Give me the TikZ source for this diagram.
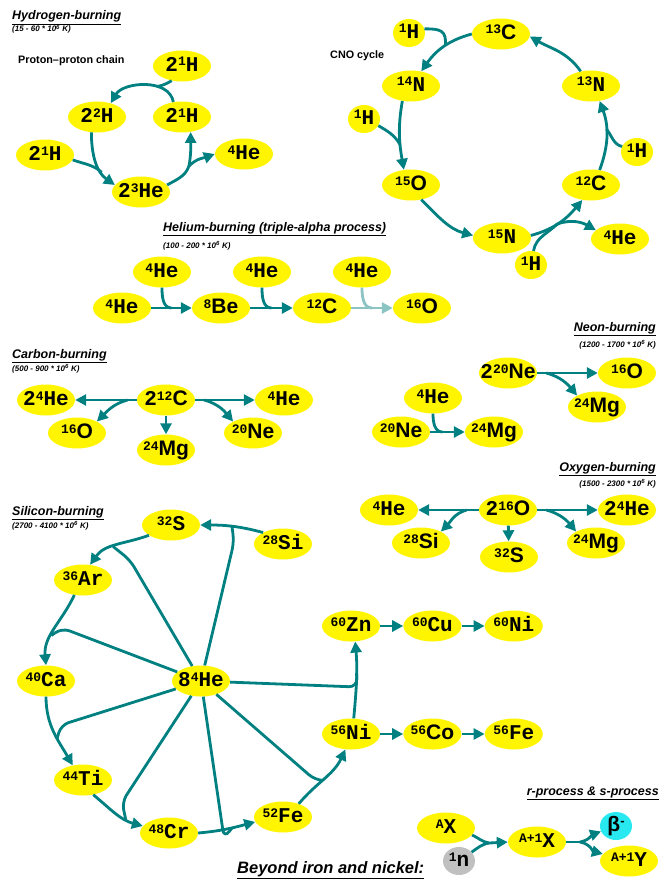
\documentclass[tikz,border=0pt]{standalone}
\usepackage{fontspec}
\setmainfont{Liberation Sans}
\newfontfamily\monofont{Liberation Mono}
\usepackage{tikz}
\definecolor{nucyellow}{RGB}{255,245,0}
\definecolor{reactteal}{RGB}{0,128,128}
\definecolor{fadeteal}{RGB}{140,196,196}
\definecolor{neutrongray}{RGB}{192,192,192}
\definecolor{betacyan}{RGB}{40,232,240}
\usetikzlibrary{arrows.meta, positioning, shapes}
\newcommand{\iso}[2]{\raisebox{5.5pt}{\fontsize{13}{13}\selectfont #1}#2}
\newcommand{\sanel}[1]{{\rmfamily #1}}
\tikzstyle{nucl} = [ellipse, fill=nucyellow, minimum width=58pt, minimum height=31pt, inner xsep=-12pt, inner ysep=-3pt, text height=14pt, text depth=3pt, font=\monofont\bfseries\fontsize{21}{21}\selectfont]
\tikzstyle{proton} = [nucl, minimum width=32pt, minimum height=28pt]
\tikzstyle{arrow} = [arrows=->, reactteal, line width=2.8pt]
\tikzstyle{feed} = [reactteal, line width=2.8pt]
\tikzstyle{title} = [anchor=base west, inner sep=0pt, font=\bfseries\itshape\fontsize{12.5}{14}\selectfont]
\tikzstyle{temp} = [anchor=base west, inner sep=0pt, font=\bfseries\itshape\fontsize{8}{9}\selectfont]
\tikzstyle{caption} = [anchor=base west, inner sep=0pt, font=\bfseries\fontsize{10.8}{12}\selectfont]

\begin{document}
\begin{tikzpicture}[x=1pt, y=-1pt, >={Triangle[length=11pt, width=11pt]}]
    \useasboundingbox (0,0) rectangle (660,880);

    % Hydrogen-burning: proton-proton chain
    \node [title] (hydtitle) at (12,20) {\underline{Hydrogen-burning}};
    \node [temp] (hydtemp) at (12,32) {(15 - 60 * 10\textsuperscript{6} K)};
    \node [caption] (ppcap) at (18,64) {Proton–proton chain};
    \node [nucl] (ppa) at (182,66) {2\iso{1}{H}};
    \node [nucl] (ppb) at (97,117) {2\iso{2}{H}};
    \node [nucl] (ppc) at (182,117) {2\iso{1}{H}};
    \node [nucl] (ppd) at (45,155) {2\iso{1}{H}};
    \node [nucl] (ppe) at (141,192) {2\iso{3}{He}};
    \node [nucl] (ppf) at (244,154) {\iso{4}{He}};
    \coordinate (ppj3) at (189,166);

    \draw [arrow] (ppc.120) to[out=100, in=60] coordinate[pos=0.35] (ppj1) (ppb.45);
    \draw [feed] (ppa.235) to[out=-150, in=10] (ppj1);
    \draw [arrow] (ppb.250) to[out=-90, in=145] coordinate[pos=0.7] (ppj2) (ppe.165);
    \draw [feed] (ppd.-10) to[out=-20, in=140] (ppj2);
    \draw [feed] (ppe.15) to[out=30, in=-110] (ppj3);
    \draw [arrow] (ppj3) to[out=80, in=-90] (ppc.-60);
    \draw [arrow] (ppj3) to[out=45, in=200] (ppf.west);

    % Hydrogen-burning: CNO cycle
    \node [caption] (cnocap) at (330,59) {CNO cycle};
    \node [proton] (cnoh1) at (409,33) {\iso{1}{H}};
    \node [nucl] (cnoc13) at (501,34) {\iso{13}{\sanel{C}}};
    \node [nucl] (cnon14) at (411,86) {\iso{14}{N}};
    \node [nucl] (cnon13) at (591,86) {\iso{13}{N}};
    \node [proton] (cnoh2) at (364,119) {\iso{1}{H}};
    \node [proton] (cnoh3) at (637,152) {\iso{1}{H}};
    \node [nucl] (cnoo15) at (411,185) {\iso{15}{\sanel{O}}};
    \node [nucl] (cnoc12) at (591,185) {\iso{12}{\sanel{C}}};
    \node [nucl] (cnon15) at (502,238) {\iso{15}{N}};
    \node [nucl] (cnohe) at (620,239) {\iso{4}{He}};
    \node [proton] (cnoh4) at (531,265) {\iso{1}{H}};

    \draw [arrow] (cnoc13.west) to[out=195, in=55] coordinate[pos=0.45] (cnoj1) (cnon14.55);
    \draw [feed] (cnoh1.15) to[out=0, in=85, looseness=1.5] (cnoj1);
    \draw [arrow] (cnon14.240) to[out=-100, in=100] coordinate[pos=0.65] (cnoj2) (cnoo15.115);
    \draw [feed] (cnoh2.-25) to[out=-30, in=120] (cnoj2);
    \draw [arrow] (cnoo15.-55) to[out=-45, in=165] (cnon15.175);
    \draw [arrow] (cnon15.5) to[out=15, in=-130] coordinate[pos=0.45] (cnoj3) (cnoc12.240);
    \draw [feed] (cnoh4.80) to[out=80, in=-135] (cnoj3);
    \draw [arrow] (cnoj3) to[out=20, in=150] (cnohe.160);
    \draw [arrow] (cnoc12.60) to[out=70, in=-70] coordinate[pos=0.6] (cnoj4) (cnon13.-60);
    \draw [feed] (cnoh3.160) to[out=165, in=-50] (cnoj4);
    \draw [arrow] (cnon13.125) to[out=125, in=-30] (cnoc13.-5);

    % Helium-burning
    \node [title] (hetitle) at (163,231) {\underline{Helium-burning (triple-alpha process)}};
    \node [temp] (hetemp) at (163,248) {(100 - 200 * 10\textsuperscript{6} K)};
    \node [nucl] (hea0) at (122,308) {\iso{4}{He}};
    \node [nucl] (hea1) at (162,272) {\iso{4}{He}};
    \node [nucl] (be8) at (221,308) {\iso{8}{\sanel{Be}}};
    \node [nucl] (hea2) at (262,272) {\iso{4}{He}};
    \node [nucl] (hec12) at (322,308) {\iso{12}{\sanel{C}}};
    \node [nucl] (hea3) at (362,272) {\iso{4}{He}};
    \node [nucl] (heo16) at (422,308) {\iso{16}{\sanel{O}}};

    \draw [arrow] (hea0) -- coordinate[pos=0.5] (hja) (be8);
    \draw [feed] (hea1.south) to[out=-90, in=180] (hja);
    \draw [arrow] (be8) -- coordinate[pos=0.5] (hjb) (hec12);
    \draw [feed] (hea2.south) to[out=-90, in=180] (hjb);
    \draw [arrow, fadeteal] (hec12) -- coordinate[pos=0.5] (hjc) (heo16);
    \draw [feed, fadeteal] (hea3.south) to[out=-90, in=180] (hjc);

    % Carbon-burning
    \node [title] (ctitle) at (12,358) {\underline{Carbon-burning}};
    \node [temp] (ctemp) at (12,371) {(500 - 900 * 10\textsuperscript{6} K)};
    \node [nucl] (che2) at (46,400) {2\iso{4}{He}};
    \node [nucl] (cc2) at (166,400) {2\iso{12}{\sanel{C}}};
    \node [nucl] (chec) at (284,400) {\iso{4}{He}};
    \node [nucl] (co16) at (77,433) {\iso{16}{\sanel{O}}};
    \node [nucl] (cmg24) at (166,450) {\iso{24}{\sanel{Mg}}};
    \node [nucl] (cne20) at (253,433) {\iso{20}{\sanel{Ne}}};

    \draw [arrow] (cc2.west) -- coordinate[pos=0.15] (ccj1) (che2.east);
    \draw [arrow] (ccj1) to[out=195, in=45] (co16.30);
    \draw [arrow] (cc2.east) -- coordinate[pos=0.15] (ccj2) (chec.west);
    \draw [arrow] (ccj2) to[out=-15, in=130] (cne20.150);
    \draw [arrow] (cc2) -- (cmg24);

    % Neon-burning
    \node [title, anchor=base east] (netitle) at (656,331) {\underline{Neon-burning}};
    \node [temp, anchor=base east] (netemp) at (656,347) {(1200 - 1700 * 10\textsuperscript{6} K)};
    \node [nucl] (nne2) at (508,373) {2\iso{20}{\sanel{Ne}}};
    \node [nucl] (no16) at (627,373) {\iso{16}{\sanel{O}}};
    \node [nucl] (nmg24) at (597,407) {\iso{24}{\sanel{Mg}}};
    \node [nucl] (nhe) at (433,398) {\iso{4}{He}};
    \node [nucl] (nne20) at (401,432) {\iso{20}{\sanel{Ne}}};
    \node [nucl] (nmg24b) at (494,432) {\iso{24}{\sanel{Mg}}};

    \draw [arrow] (nne2.east) -- coordinate[pos=0.15] (nj1) (no16.west);
    \draw [arrow] (nj1) to[out=-15, in=130] (nmg24.150);
    \draw [arrow] (nne20) -- coordinate[pos=0.35] (nj2) (nmg24b);
    \draw [feed] (nhe.south) to[out=-90, in=180] (nj2);

    % Oxygen-burning
    \node [title, anchor=base east] (oxtitle) at (656,471) {\underline{Oxygen-burning}};
    \node [temp, anchor=base east] (oxtemp) at (656,486) {(1500 - 2300 * 10\textsuperscript{6} K)};
    \node [nucl] (oo2) at (508,510) {2\iso{16}{\sanel{O}}};
    \node [nucl] (ohe) at (389,510) {\iso{4}{He}};
    \node [nucl] (ohe2) at (627,510) {2\iso{4}{He}};
    \node [nucl] (osi28) at (421,543) {\iso{28}{\sanel{Si}}};
    \node [nucl] (os32) at (509,557) {\iso{32}{\sanel{S}}};
    \node [nucl] (omg24) at (596,543) {\iso{24}{\sanel{Mg}}};

    \draw [arrow] (oo2.west) -- coordinate[pos=0.2] (oj1) (ohe.east);
    \draw [arrow] (oj1) to[out=195, in=45] (osi28.30);
    \draw [arrow] (oo2.east) -- coordinate[pos=0.15] (oj2) (ohe2.west);
    \draw [arrow] (oj2) to[out=-15, in=130] (omg24.150);
    \draw [arrow] (oo2) -- (os32);

    % Silicon-burning
    \node [title] (sititle) at (12,515) {\underline{Silicon-burning}};
    \node [temp] (sitemp) at (12,528) {(2700 - 4100 * 10\textsuperscript{6} K)};
    \node [nucl] (s32) at (171,525) {\iso{32}{S}};
    \node [nucl] (si28) at (283,544) {\iso{28}{Si}};
    \node [nucl] (ar36) at (83,580) {\iso{36}{Ar}};
    \node [nucl] (ca40) at (46,681) {\iso{40}{Ca}};
    \node [nucl] (he8) at (201,681) {8\iso{4}{He}};
    \node [nucl] (ti44) at (83,780) {\iso{44}{Ti}};
    \node [nucl] (cr48) at (169,833) {\iso{48}{Cr}};
    \node [nucl] (fe52) at (283,817) {\iso{52}{Fe}};
    \node [nucl] (zn60) at (351,626) {\iso{60}{Zn}};
    \node [nucl, right=23pt of zn60] (cu60) {\iso{60}{Cu}};
    \node [nucl, right=23pt of cu60] (ni60) {\iso{60}{Ni}};
    \node [nucl] (ni56) at (351,734) {\iso{56}{Ni}};
    \node [nucl, right=23pt of ni56] (co56) {\iso{56}{\sanel{Co}}};
    \node [nucl, right=23pt of co56] (fe56) {\iso{56}{Fe}};

    \draw [arrow] (si28.150) to[out=165, in=0] coordinate[pos=0.5] (sia) (s32.east);
    \draw [feed, rounded corners=8pt] (he8) -- (234,542) -- (sia);
    \draw [arrow] (s32.205) to[out=200, in=55] coordinate[pos=0.55] (sib) (ar36.65);
    \draw [feed, rounded corners=8pt] (he8) -- (130,560) -- (sib);
    \draw [arrow] (ar36.240) to[out=-115, in=95] coordinate[pos=0.6] (sic) (ca40.north);
    \draw [feed, rounded corners=8pt] (he8) -- (62,628) -- (sic);
    \draw [arrow] (ca40.south) to[out=-90, in=120] coordinate[pos=0.6] (sid) (ti44.125);
    \draw [feed, rounded corners=8pt] (he8) -- (61,725) -- (sid);
    \draw [arrow] (ti44.-55) to[out=-40, in=165] coordinate[pos=0.7] (sie) (cr48.165);
    \draw [feed, rounded corners=8pt] (he8) -- (122,802) -- (sie);
    \draw [arrow] (cr48.east) to[out=5, in=195] coordinate[pos=0.6] (sif) (fe52.190);
    \draw [feed, rounded corners=8pt] (he8) -- (224,838) -- (sif);
    \draw [arrow] (fe52.40) to[out=50, in=-115] coordinate[pos=0.45] (sig) (ni56.-110);
    \draw [feed, rounded corners=8pt] (he8) -- (315,780) -- (sig);
    \draw [arrow] (ni56.80) to[out=85, in=-85] coordinate[pos=0.6] (sih) (zn60.-75);
    \draw [feed, rounded corners=8pt] (he8) -- (357,687) -- (sih);

    \draw [arrow] (zn60) -- (cu60);
    \draw [arrow] (cu60) -- (ni60);
    \draw [arrow] (ni56) -- (co56);
    \draw [arrow] (co56) -- (fe56);

    % r-process & s-process
    \node [title, font=\bfseries\itshape\fontsize{16.5}{18}\selectfont] (beyond) at (237,873) {\underline{Beyond iron and nickel:}};
    \node [title, anchor=base east] (rstitle) at (659,795) {\underline{r-process \& s-process}};
    \node [nucl] (ax) at (446,828) {\iso{A}{X}};
    \node [proton, fill=neutrongray] (neut) at (459,861) {\iso{1}{n}};
    \node [nucl] (ax1) at (537,842) {\iso{A+1}{X}};
    \node [proton, fill=betacyan] (beta) at (616,826) {\sanel{β}\raisebox{6pt}{\fontsize{13}{13}\selectfont\sanel{-}}};
    \node [nucl] (ay1) at (629,861) {\iso{A+1}{Y}};
    \coordinate (rjoin) at (489,843);
    \coordinate (rsplit) at (580,842);

    \draw [feed] (ax.-15) to[out=-25, in=170] (rjoin);
    \draw [feed] (neut.35) to[out=35, in=190] (rjoin);
    \draw [arrow] (rjoin) -- (ax1.west);
    \draw [feed] (ax1.east) -- (rsplit);
    \draw [arrow] (rsplit) to[out=10, in=200] (beta.200);
    \draw [arrow] (rsplit) to[out=-10, in=165] (ay1.165);
\end{tikzpicture}
\end{document}
